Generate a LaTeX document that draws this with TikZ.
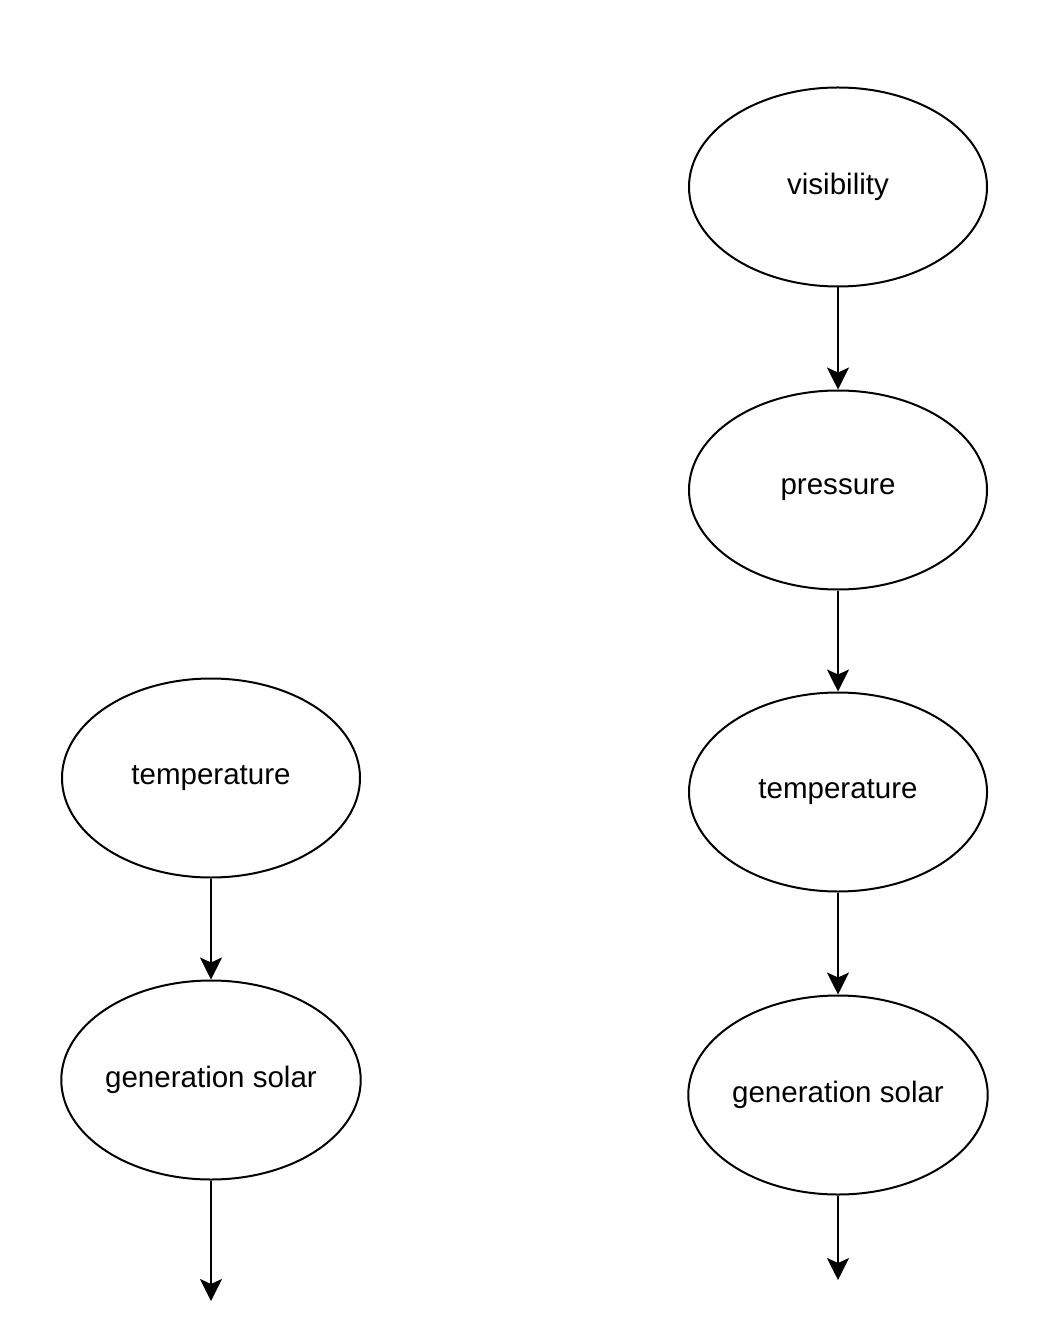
\documentclass[tikz,border=0pt]{standalone}
\usepackage{fontspec}
\setmainfont{Liberation Sans}
\usetikzlibrary{arrows.meta, shapes.geometric}

\begin{document}
\begin{tikzpicture}[
        var/.style={ellipse, draw=black, line width=0.04cm,
                    minimum width=5.96cm, minimum height=3.98cm,
                    inner sep=0pt, align=center,
                    font=\fontsize{16.8}{20}\selectfont},
        arrow/.style={-{Stealth[length=0.44cm, width=0.44cm, inset=0.1cm]},
                      line width=0.04cm},
    ]
    \useasboundingbox (0, 0) rectangle (21.08, -26.8);

    % left chain
    \node[var] (ltemp) at (4.22, -15.56) {temperature};
    \node[var] (lgen) at (4.22, -21.6) {generation solar};
    \coordinate (lend) at (4.22, -26.02);

    % right chain
    \node[var] (vis) at (16.76, -3.74) {visibility};
    \node[var] (pres) at (16.76, -9.8) {pressure};
    \node[var] (rtemp) at (16.76, -15.84) {temperature};
    \node[var] (rgen) at (16.76, -21.9) {generation solar};
    \coordinate (rend) at (16.76, -25.6);

    % arrows
    \draw[arrow] (ltemp.south) -- (lgen.north);
    \draw[arrow] (lgen.south) -- (lend);
    \draw[arrow] (vis.south) -- (pres.north);
    \draw[arrow] (pres.south) -- (rtemp.north);
    \draw[arrow] (rtemp.south) -- (rgen.north);
    \draw[arrow] (rgen.south) -- (rend);

\end{tikzpicture}
\end{document}
